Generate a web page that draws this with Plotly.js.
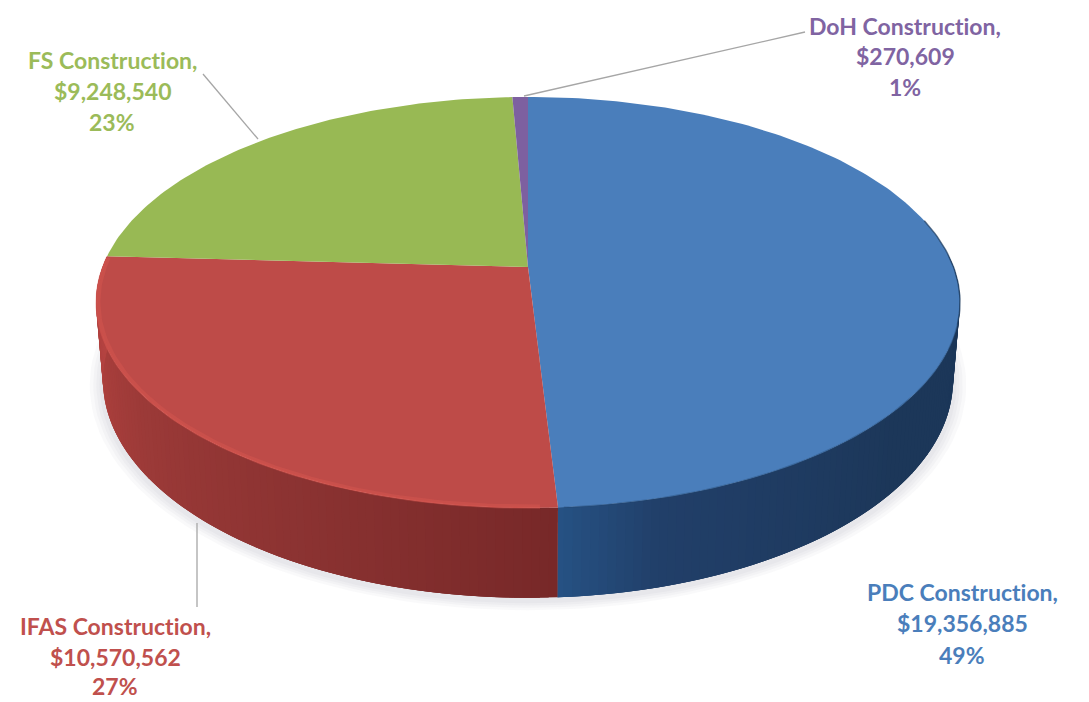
<!DOCTYPE html>
<html>
<head>
<meta charset="utf-8">
<script src="https://cdn.plot.ly/plotly-3.0.1.min.js"></script>
<style>html,body{margin:0;padding:0;background:#fff}#chart{width:1089px;height:702px}
svg text{font-variant-ligatures:none;font-feature-settings:"liga" 0}</style>
</head>
<body>
<div id="chart"></div>
<script>
// Data, clockwise from twelve o'clock
const sliceNames = ['PDC Construction,', 'IFAS Construction,', 'FS Construction,', 'DoH Construction,'];
const sliceValues = [19356885, 10570562, 9248540, 270609];
const faceColors = ['#4a7ebb', '#be4b48', '#98b954', '#7d60a0'];
const textColors = ['#4a7ebb', '#c0504d', '#9bbb59', '#8064a2'];

// Pie projection: a circle seen in perspective
const cx = 528, tilt = 0.1727;
const topFace = {a: 425.5, b: 199.4, y: 267};
const baseFace = {a: 418.7, b: 211.4, y: 342.3};
function project(face, deg, scale) {
  const t = deg * Math.PI / 180, s = scale || 1;
  const u = s * Math.sin(t), v = s * Math.cos(t), w = 1 + tilt * v;
  return [cx + face.a * u / w, face.y - face.b * v / w];
}
const total = sliceValues.reduce((p, c) => p + c, 0);
const bounds = [0];
sliceValues.forEach(v => bounds.push(bounds[bounds.length - 1] + v / total * 360));

function mix(c1, c2, f) {
  const h = (c, i) => parseInt(c.substr(1 + 2 * i, 2), 16);
  return 'rgb(' + [0, 1, 2].map(i => Math.round(h(c1, i) + (h(c2, i) - h(c1, i)) * f)).join(',') + ')';
}
function ramp(stops, d) {
  for (let i = 1; i < stops.length; i++) {
    if (d <= stops[i][0]) {
      return mix(stops[i - 1][1], stops[i][1], (d - stops[i - 1][0]) / (stops[i][0] - stops[i - 1][0]));
    }
  }
  return stops[stops.length - 1][1];
}
const wallRamps = [
  [[90, '#1b3658'], [130, '#1c3759'], [165, '#213f69'], [177, '#265284']],
  [[176, '#772828'], [205, '#8a3231'], [235, '#9c3a38'], [255, '#ad403d'], [272, '#b84543']],
];

const traces = [];
function poly(xs, ys, color, opacity) {
  traces.push({type: 'scatter', mode: 'lines', x: xs, y: ys, fill: 'toself', fillcolor: color,
    line: {color: color, width: 0}, opacity: opacity === undefined ? 1 : opacity, hoverinfo: 'skip', showlegend: false});
}
function curve(face, from, to, scale, color, width, opacity) {
  const xs = [], ys = [];
  for (let d = from; d <= to + 1e-6; d += 1) { const p = project(face, d, scale); xs.push(p[0]); ys.push(p[1]); }
  traces.push({type: 'scatter', mode: 'lines', x: xs, y: ys, line: {color: color, width: width},
    opacity: opacity, hoverinfo: 'skip', showlegend: false});
}

// Soft shadow round the base
[1.030, 1.022, 1.015, 1.008].forEach(s => {
  const xs = [], ys = [];
  for (let d = 80; d <= 280; d += 2) { const p = project(baseFace, d, s); xs.push(p[0]); ys.push(p[1] + 3); }
  poly(xs, ys, '#8a8f96', 0.05);
});

// Side wall, as overlapping shaded strips through the visible slices
[0, 1].forEach(i => {
  const from = Math.max(bounds[i], 86), to = Math.min(bounds[i + 1], 274);
  const step = 1;
  for (let d = from; d < to; d += step) {
    const e = Math.min(d + step * 3, to);
    const a = project(topFace, d), b = project(topFace, e), c = project(baseFace, e), f = project(baseFace, d);
    poly([a[0], b[0], c[0], f[0], a[0]], [a[1], b[1], c[1], f[1], a[1]], ramp(wallRamps[i], d + step / 2));
  }
});

// Top faces, computed from the values
sliceValues.forEach((v, i) => {
  const xs = [cx], ys = [topFace.y];
  const n = Math.max(2, Math.ceil(bounds[i + 1] - bounds[i]));
  for (let k = 0; k <= n; k++) {
    const p = project(topFace, bounds[i] + (bounds[i + 1] - bounds[i]) * k / n);
    xs.push(p[0]); ys.push(p[1]);
  }
  xs.push(cx); ys.push(topFace.y);
  poly(xs, ys, faceColors[i]);
});

// Bevel highlights along the rim
curve(topFace, bounds[1] + 2, bounds[2], 0.994, '#d9574f', 3.5, 0.4);
curve(topFace, bounds[1] + 2, bounds[2], 0.999, '#d9574f', 2, 0.4);
curve(topFace, 76, 106, 1.0, '#1d3a5c', 1.5, 0.7);
curve(topFace, 106, bounds[1], 1.0, '#24476f', 1.5, 0.4);

// Leader lines
const leaderX = [[524, 805], [258, 203], [197, 197]];
const leaderY = [[96, 32], [139, 74], [523, 607]];
leaderX.forEach((x, i) => traces.push({type: 'scatter', mode: 'lines', x: x, y: leaderY[i],
  line: {color: '#a6a6a6', width: 1.3}, hoverinfo: 'skip', showlegend: false}));

// Labels
const labelX = [962, 115, 112, 905];
const labelY = [[592, 623, 655], [626, 657, 686], [60, 91, 122], [26, 56, 87]];
const annotations = [];
sliceNames.forEach((name, i) => {
  const lines = [name, '$' + sliceValues[i].toLocaleString('en-US'), Math.round(sliceValues[i] / total * 100) + '%'];
  lines.forEach((text, k) => annotations.push({
    text: text, x: labelX[i], y: labelY[i][k], xref: 'x', yref: 'y', showarrow: false,
    xanchor: 'center', yanchor: 'middle', borderpad: 0,
    font: {family: 'Lato, "Open Sans", sans-serif', size: 23, color: textColors[i], weight: 700}
  }));
});

Plotly.newPlot('chart', traces, {
  width: 1089, height: 702, margin: {l: 0, r: 0, t: 0, b: 0},
  paper_bgcolor: '#ffffff', plot_bgcolor: '#ffffff', showlegend: false,
  xaxis: {range: [0, 1089], visible: false, fixedrange: true},
  yaxis: {range: [702, 0], visible: false, fixedrange: true},
  annotations: annotations
}, {staticPlot: true, displayModeBar: false});
</script>
</body>
</html>
